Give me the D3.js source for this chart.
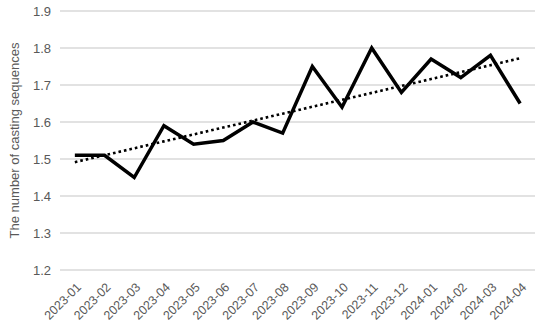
<!DOCTYPE html>
<html>
<head>
<meta charset="utf-8">
<script src="https://cdn.jsdelivr.net/npm/d3@7"></script>
<style>
  body { margin: 0; background: #fff; }
  text { font-family: "Liberation Sans", Arial, sans-serif; }
</style>
</head>
<body>
<svg id="chart" width="550" height="329"></svg>
<script>
// data
var months = ["2023-01", "2023-02", "2023-03", "2023-04", "2023-05", "2023-06", "2023-07", "2023-08",
  "2023-09", "2023-10", "2023-11", "2023-12", "2024-01", "2024-02", "2024-03", "2024-04"];
var counts = [1.51, 1.51, 1.45, 1.59, 1.54, 1.55, 1.60, 1.57, 1.75, 1.64, 1.80, 1.68, 1.77, 1.72, 1.78, 1.65];
var yTicks = [1.2, 1.3, 1.4, 1.5, 1.6, 1.7, 1.8, 1.9];

var svg = d3.select("#chart");
var margin = { top: 11, left: 60, right: 15, bottom: 59 };
var width = 550 - margin.left - margin.right;
var height = 329 - margin.top - margin.bottom;

var g = svg.append("g")
  .attr("transform", "translate(" + margin.left + "," + margin.top + ")");

var x = d3.scaleBand()
  .domain(months)
  .range([0, width]);

var y = d3.scaleLinear()
  .domain([1.2, 1.9])
  .range([height, 0]);

// gridlines
g.selectAll(".grid")
  .data(yTicks)
  .enter()
  .append("line")
  .attr("class", "grid")
  .attr("x1", 0)
  .attr("x2", width)
  .attr("y1", function(d) { return y(d); })
  .attr("y2", function(d) { return y(d); })
  .attr("stroke", "#d9d9d9")
  .attr("stroke-width", 1.3);

// y axis labels
var yAxis = d3.axisLeft(y).tickValues(yTicks).tickFormat(d3.format(".1f")).tickSize(0).tickPadding(9);
var yg = g.append("g").call(yAxis);
yg.select(".domain").remove();
yg.selectAll("text")
  .attr("fill", "#595959")
  .style("font-size", "13px");

// x axis labels
var xAxis = d3.axisBottom(x).tickSize(0).tickPadding(0);
var xg = g.append("g")
  .attr("transform", "translate(0," + height + ")")
  .call(xAxis);
xg.select(".domain").remove();
xg.selectAll("text")
  .attr("fill", "#595959")
  .style("font-size", "12.5px")
  .attr("text-anchor", "end")
  .attr("dy", null)
  .attr("y", 0)
  .attr("transform", "translate(7,18) rotate(-45)");

// axis title
svg.append("text")
  .attr("transform", "translate(19," + (margin.top + height / 2) + ") rotate(-90)")
  .attr("text-anchor", "middle")
  .attr("fill", "#595959")
  .style("font-size", "13px")
  .text("The number of casting sequences");

var cx = function(d, i) { return x(months[i]) + x.bandwidth() / 2; };

// linear trendline
var mx = d3.mean(counts, function(d, i) { return i; });
var my = d3.mean(counts);
var slope = d3.sum(counts, function(d, i) { return (i - mx) * (d - my); }) /
  d3.sum(counts, function(d, i) { return (i - mx) * (i - mx); });
var trend = counts.map(function(d, i) { return my + slope * (i - mx); });

g.append("path")
  .datum(trend)
  .attr("fill", "none")
  .attr("stroke", "#000")
  .attr("stroke-width", 2.6)
  .attr("stroke-dasharray", "2.6,3")
  .attr("d", d3.line().x(cx).y(function(d) { return y(d); }));

// main line
g.append("path")
  .datum(counts)
  .attr("fill", "none")
  .attr("stroke", "#000")
  .attr("stroke-width", 3.5)
  .attr("stroke-linejoin", "miter")
  .attr("d", d3.line().x(cx).y(function(d) { return y(d); }));
</script>
</body>
</html>
